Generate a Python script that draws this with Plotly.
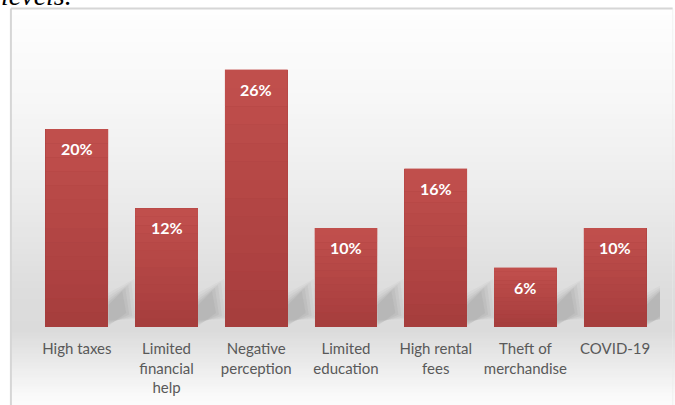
import plotly.graph_objects as go

# Survey results: main obstacles reported
categories = [
    "High taxes",
    "Limited<br>financial<br>help",
    "Negative<br>perception",
    "Limited<br>education",
    "High rental<br>fees",
    "Theft of<br>merchandise",
    "COVID-19",
]
shares = [20, 12, 26, 10, 16, 6, 10]
value_labels = ["20%", "12%", "26%", "10%", "16%", "6%", "10%"]

W, H = 675, 405
PLOT_L, PLOT_R = 31.6, 659.8
PLOT_T, PLOT_B = 30.0, 327.0
Y_MAX = 30.0
X_RANGE = (-0.5, len(categories) - 0.5)
BAR_WIDTH = 0.70

px_per_x = (PLOT_R - PLOT_L) / (X_RANGE[1] - X_RANGE[0])
px_per_y = (PLOT_B - PLOT_T) / Y_MAX


def paper_x(px):
    return (px - PLOT_L) / (PLOT_R - PLOT_L)


def paper_y(py):
    return (PLOT_B - py) / (PLOT_B - PLOT_T)


# vertical background gradient of the chart frame (pixel row -> grey level)
grad_stops = [(9, 254), (100, 247), (200, 235), (290, 221), (330, 219),
              (360, 233), (395, 249), (405, 252)]


def grey_at(py):
    for (y0, g0), (y1, g1) in zip(grad_stops, grad_stops[1:]):
        if y0 <= py <= y1:
            t = (py - y0) / (y1 - y0)
            return round(g0 + (g1 - g0) * t)
    return grad_stops[-1][1]


shapes = []
FRAME_L, FRAME_T, FRAME_R = 10.5, 8.5, 672.5
step = 3
py = FRAME_T
while py < H:
    g = grey_at(py + step / 2)
    shapes.append(dict(
        type="rect", xref="paper", yref="paper", layer="below",
        x0=paper_x(FRAME_L), x1=paper_x(FRAME_R + 3),
        y0=paper_y(py), y1=paper_y(min(py + step + 0.5, H + 2)),
        fillcolor=f"rgb({g},{g},{g})", line=dict(width=0),
    ))
    py += step

# frame borders
shapes.append(dict(type="line", xref="paper", yref="paper", layer="below",
                   x0=paper_x(FRAME_L), x1=paper_x(FRAME_R),
                   y0=paper_y(FRAME_T), y1=paper_y(FRAME_T),
                   line=dict(color="#d6d6d6", width=2)))
shapes.append(dict(type="line", xref="paper", yref="paper", layer="below",
                   x0=paper_x(FRAME_L), x1=paper_x(FRAME_L),
                   y0=paper_y(FRAME_T), y1=paper_y(H + 2),
                   line=dict(color="#d6d6d6", width=2)))
shapes.append(dict(type="line", xref="paper", yref="paper", layer="below",
                   x0=paper_x(FRAME_R), x1=paper_x(FRAME_R),
                   y0=paper_y(FRAME_T), y1=paper_y(H + 2),
                   line=dict(color="rgba(235,235,235,0.6)", width=1)))

# soft cast shadows to the right of each bar base
dx = 1.0 / px_per_x
dy = 1.0 / px_per_y
shadow_layers = [(8, 0.035), (5, 0.045), (2, 0.055), (-1, 0.06), (-4, 0.06)]
for i, v in enumerate(shares):
    xr = i + BAR_WIDTH / 2
    for grow, op in shadow_layers:
        pts = [
            (xr, (3 + grow / 2) * dy),
            (xr, (26 + grow) * dy),
            (xr + (18 + grow) * dx, (40 + grow) * dy),
            (xr + (22 + grow) * dx, (12 - grow / 2) * dy),
        ]
        path = "M " + " L ".join(f"{x:.4f},{y:.4f}" for x, y in pts) + " Z"
        shapes.append(dict(type="path", xref="x", yref="y", layer="below",
                           path=path, fillcolor=f"rgba(70,70,70,{op})",
                           line=dict(width=0)))

# lighter sheen toward the top of each bar
N_STRIPS = 14
for i, v in enumerate(shares):
    x0, x1 = i - BAR_WIDTH / 2, i + BAR_WIDTH / 2
    for s in range(N_STRIPS):
        f0, f1 = s / N_STRIPS, (s + 1) / N_STRIPS
        alpha = (f0 + f1) / 2 * 0.9
        shapes.append(dict(type="rect", xref="x", yref="y", layer="above",
                           x0=x0, x1=x1, y0=v * f0, y1=v * f1,
                           fillcolor=f"rgba(196,82,79,{alpha:.3f})",
                           line=dict(width=0)))

fig = go.Figure()
fig.add_trace(go.Bar(
    x=list(range(len(categories))),
    y=shares,
    width=BAR_WIDTH,
    marker=dict(color="#a63d3d", line=dict(width=0)),
    hoverinfo="skip",
))

annotations = []
for i, (v, lab) in enumerate(zip(shares, value_labels)):
    annotations.append(dict(
        x=i, y=v, xref="x", yref="y", text=lab, showarrow=False,
        yanchor="middle", yshift=-19.5,
        font=dict(family="Lato", size=16, color="white", weight="bold"),
    ))

# caption line above the frame, partly cut off
annotations.append(dict(
    x=paper_x(-1), y=paper_y(12.5), xref="paper", yref="paper",
    xanchor="left", yanchor="bottom", showarrow=False,
    text="<i>levels.</i>",
    font=dict(family="Liberation Serif", size=28, color="black"),
))

fig.update_layout(
    width=W, height=H,
    margin=dict(l=PLOT_L, r=W - PLOT_R, t=PLOT_T, b=H - PLOT_B, pad=0,
                autoexpand=False),
    paper_bgcolor="white",
    plot_bgcolor="rgba(0,0,0,0)",
    showlegend=False,
    shapes=shapes,
    annotations=annotations,
    bargap=0,
)
fig.update_xaxes(
    range=list(X_RANGE),
    tickmode="array",
    tickvals=list(range(len(categories))),
    ticktext=categories,
    tickfont=dict(family="Lato", size=15, color="#595959"),
    ticklabelstandoff=11,
    automargin=False,
    showgrid=False, zeroline=False, showline=False, ticks="",
    fixedrange=True,
)
fig.update_yaxes(
    range=[0, Y_MAX],
    automargin=False,
    showticklabels=False, showgrid=False, zeroline=False, showline=False,
    fixedrange=True,
)

fig.write_html("out.html")
